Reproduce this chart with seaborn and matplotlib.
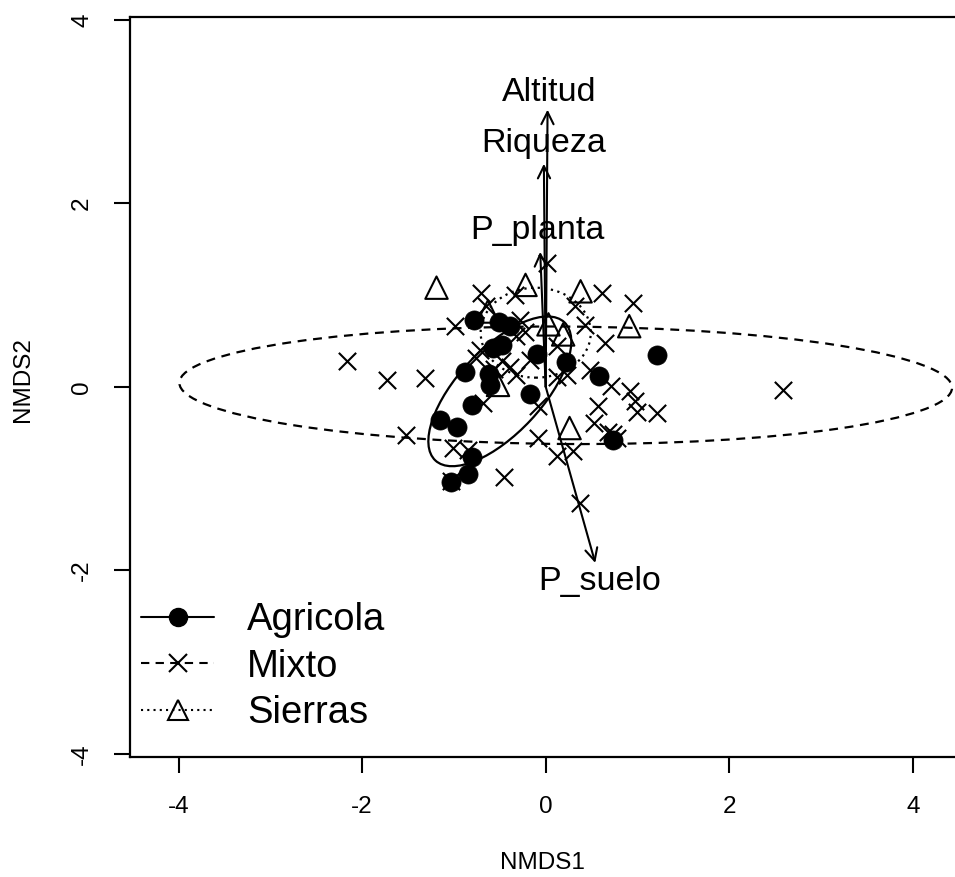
import numpy as np
import pandas as pd
import matplotlib
matplotlib.use("Agg")
import matplotlib.pyplot as plt
from matplotlib.patches import Ellipse
from matplotlib.lines import Line2D
import seaborn as sns

# NMDS site scores per land-use group
agr_x = [-0.785, -0.512, -0.392, -0.578, -0.479, -0.098, 0.218, -0.884, -0.621, -0.610,
         0.578, -0.174, -0.807, -1.155, -0.970, -0.807, -0.850, -1.035, 1.210, 0.730]
agr_y = [0.730, 0.709, 0.665, 0.425, 0.458, 0.360, 0.272, 0.163, 0.142, 0.022,
         0.120, -0.076, -0.196, -0.360, -0.436, -0.763, -0.948, -1.035, 0.349, -0.578]

mix_x = [-2.16, -1.73, -1.31, -1.52, -0.99, -0.70, -0.34, 0.61, 0.95, 0.32,
         0.425, 0.643, 0.48, 0.716, 0.916, 0.97, 0.99, 1.21, 0.57, 0.53,
         0.68, 0.73, 0.78, -0.08, 0.12, 0.30, -0.08, -0.45, 0.37, -1.01,
         -0.85, -1.03, -0.68, 0.01, -0.65, -0.28, -0.32, -0.23, -0.72, -0.76,
         -0.48, -0.39, -0.56, -0.32, -0.17, 0.12, 0.12, 0.23, 2.59]
mix_y = [0.28, 0.07, 0.09, -0.53, 0.66, 1.02, 1.00, 1.02, 0.91, 0.875,
         0.676, 0.476, 0.185, 0.003, -0.05, -0.16, -0.27, -0.29, -0.21, -0.40,
         -0.49, -0.52, -0.56, -0.56, -0.76, -0.70, -0.21, -0.98, -1.27, -0.67,
         -0.69, -1.03, -0.18, 1.35, 0.875, 0.73, 0.55, 0.60, 0.40, 0.31,
         0.28, 0.22, 0.19, 0.13, 0.29, 0.44, 0.11, 0.13, -0.03]

sie_x = [-1.19, -0.22, 0.38, 0.91, 0.19, 0.03, -0.63, -0.52, 0.26]
sie_y = [1.08, 1.11, 1.04, 0.66, 0.57, 0.68, 0.82, 0.02, -0.45]

# Fitted environmental vectors (arrow tips) and their label positions
vec_names = ["Altitud", "Riqueza", "P_planta", "P_suelo"]
vec_x = [0.02, -0.02, -0.06, 0.54]
vec_y = [3.02, 2.43, 1.47, -1.92]
lab_x = [0.04, -0.02, -0.09, 0.59]
lab_y = [3.21, 2.65, 1.70, -2.12]

# Group dispersion ellipses: centre, semi-axes, rotation (degrees)
ell_groups = ["Agricola", "Mixto", "Sierras"]
ell_cx = [-0.50, 0.218, -0.109]
ell_cy = [-0.05, 0.016, 0.589]
ell_a = [1.03, 4.21, 0.60]
ell_b = [0.46, 0.64, 0.49]
ell_ang = [47.0, -0.37, 0.0]
ell_ls = ["-", (0, (4, 3)), (0, (1, 2))]

sns.set_theme(style="white")
plt.rcParams["font.family"] = ["Liberation Sans", "DejaVu Sans"]
plt.rcParams["axes.unicode_minus"] = False
plt.rcParams["text.color"] = "black"

fig = plt.figure(figsize=(9.55, 8.77), dpi=100)
ax = fig.add_axes([130 / 955, 1 - 756.5 / 877, 1 - 130 / 955, (756.5 - 17) / 877])

agr = pd.DataFrame({"NMDS1": agr_x, "NMDS2": agr_y})
mix = pd.DataFrame({"NMDS1": mix_x, "NMDS2": mix_y})
sie = pd.DataFrame({"NMDS1": sie_x, "NMDS2": sie_y})

sns.scatterplot(data=mix, x="NMDS1", y="NMDS2", marker="x", s=155, color="black",
                linewidth=1.5, ax=ax, zorder=3)
sns.scatterplot(data=sie, x="NMDS1", y="NMDS2", marker="^", s=260, facecolors="none",
                edgecolors="black", linewidth=1.5, ax=ax, zorder=3)
sns.scatterplot(data=agr, x="NMDS1", y="NMDS2", marker="o", s=190, color="black",
                edgecolor="black", linewidth=0.5, ax=ax, zorder=4)

for cx, cy, a, b, ang, ls in zip(ell_cx, ell_cy, ell_a, ell_b, ell_ang, ell_ls):
    ax.add_patch(Ellipse((cx, cy), 2 * a, 2 * b, angle=ang, fill=False,
                         edgecolor="black", linewidth=1.6, linestyle=ls, zorder=5))

for name, vx, vy, tx, ty in zip(vec_names, vec_x, vec_y, lab_x, lab_y):
    ax.annotate("", xy=(vx, vy), xytext=(0, 0),
                arrowprops=dict(arrowstyle="->", color="black", lw=1.5,
                                mutation_scale=22, shrinkA=0, shrinkB=0), zorder=6)
    ax.text(tx, ty, name, ha="center", va="center", fontsize=24.5, color="black", zorder=7)

ax.set_xlim(-4.53, 4.46)
ax.set_ylim(-4.03, 4.03)
ax.set_xticks([-4, -2, 0, 2, 4])
ax.set_yticks([-4, -2, 0, 2, 4])
ax.tick_params(axis="both", which="major", direction="out", length=11.5, width=1.5,
               labelsize=17.5, color="black", labelcolor="black", bottom=True, left=True)
ax.tick_params(axis="x", pad=17)
ax.tick_params(axis="y", pad=15, labelrotation=90)
for lab in ax.get_yticklabels():
    lab.set_va("center")

for side in ["left", "bottom", "top"]:
    ax.spines[side].set_color("black")
    ax.spines[side].set_linewidth(1.6)
ax.spines["right"].set_visible(False)

ax.set_xlabel("NMDS1", fontsize=17.5, color="black")
ax.set_ylabel("NMDS2", fontsize=17.5, color="black")
ax.xaxis.set_label_coords(0.5, (756.5 - 863) / 739.5)
ax.xaxis.label.set_va("center")
ax.yaxis.set_label_coords((23 - 130) / 825, (756.5 - 380) / 739.5)
ax.yaxis.label.set_va("center")

handles = [
    Line2D([], [], color="black", linestyle="-", lw=1.5, marker="o", markersize=13,
           markerfacecolor="black"),
    Line2D([], [], color="black", linestyle=(0, (4, 3)), lw=1.5, marker="x", markersize=13,
           markeredgewidth=1.5),
    Line2D([], [], color="black", linestyle=(0, (1, 2)), lw=1.5, marker="^", markersize=15,
           markerfacecolor="none", markeredgewidth=1.5),
]
leg = ax.legend(handles, ell_groups, loc="upper left",
                bbox_to_anchor=(0.0, 1 - (591 - 17) / 739.5),
                frameon=False, fontsize=27.5, handlelength=1.9, handletextpad=0.86,
                labelspacing=0.27, borderaxespad=0.1, borderpad=0.2)
for t in leg.get_texts():
    t.set_color("black")

fig.savefig("out.png", dpi=100, facecolor="white")
